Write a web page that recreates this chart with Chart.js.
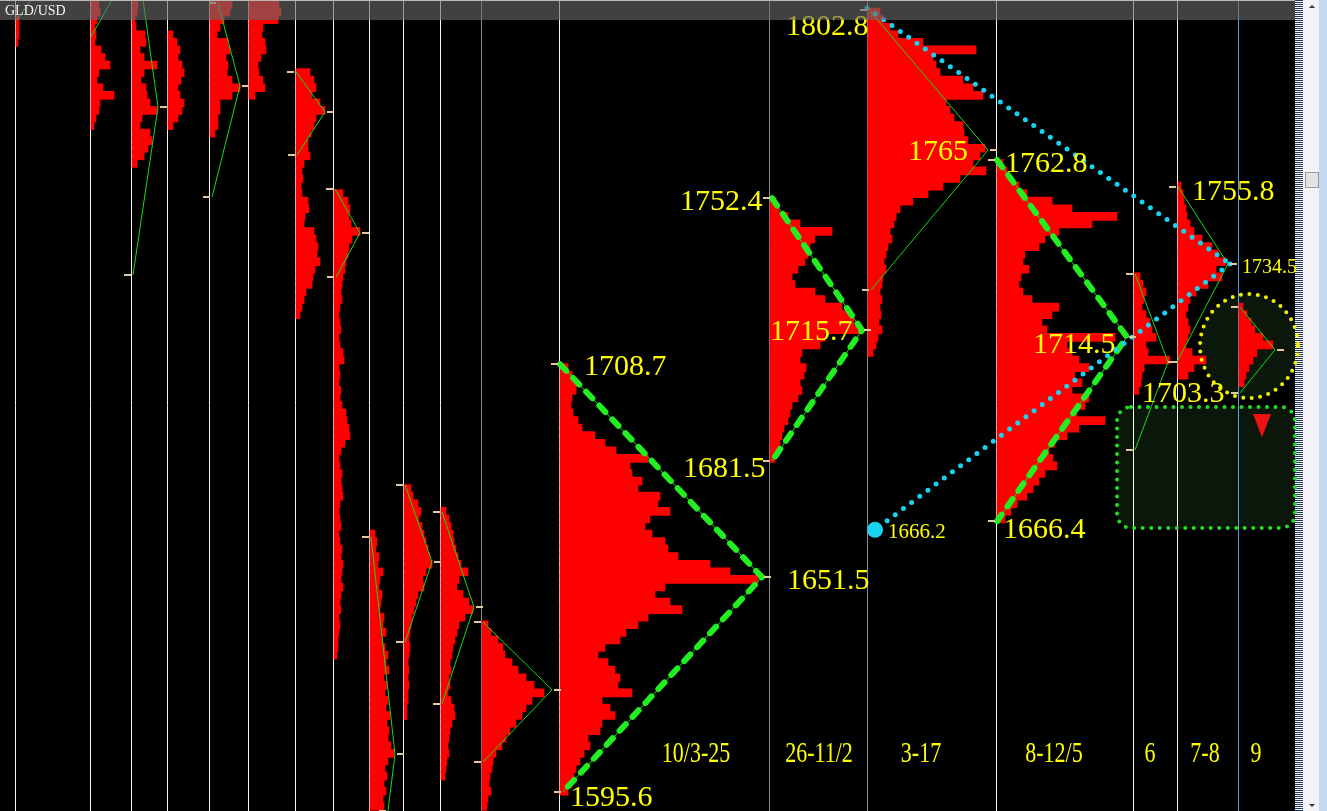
<!DOCTYPE html>
<html>
<head>
<meta charset="utf-8">
<title>GLD/USD market profile</title>
<script src="https://cdn.jsdelivr.net/npm/chart.js@4.4.1/dist/chart.umd.min.js"></script>
<style>
  html, body { margin: 0; padding: 0; background: #000; overflow: hidden; }
  #wrap { width: 1327px; height: 811px; position: relative; }
</style>
</head>
<body>
<div id="wrap"><canvas id="chart"></canvas></div>
<script>
// ---- data ---------------------------------------------------------------
// price rows are 2.0 apart, every profile is listed from its top row downwards
const rowStep = 2;

// session start on the time axis (one unit = one column of the terminal)
const sessionStart = [16, 91, 132, 168, 210, 249, 296, 334, 370, 404, 441, 482, 560, 770, 868, 997, 1134, 1178, 1239];
// price of the top row of each profile
const profileTop = [1800, 1804, 1804, 1796, 1804, 1804, 1786, 1754, 1664, 1676, 1670, 1640, 1708, 1752, 1802, 1762, 1732, 1756, 1724];

// TPO widths per row
const profileA = [3, 3, 3, 2];
const profileB = [8, 9, 6, 4, 5, 4, 10, 14, 19, 8, 6, 12, 23, 9, 8, 5, 3];
const profileC = [6, 5, 3, 4, 13, 14, 8, 12, 25, 12, 9, 14, 15, 18, 25, 10, 8, 18, 20, 16, 12, 5];
const profileD = [5, 9, 12, 10, 14, 16, 13, 10, 12, 16, 14, 10, 5];
const profileE = [22, 20, 14, 10, 7, 18, 20, 16, 18, 17, 22, 30, 22, 10, 10, 8, 8, 5];
const profileF = [30, 32, 29, 14, 13, 16, 17, 12, 9, 10, 14, 16, 6];
const profileG = [14, 18, 20, 16, 24, 29, 20, 18, 15, 12, 12, 14, 8, 6, 7, 5, 6, 12, 13, 9, 8, 18, 20, 22, 21, 24, 19, 17, 16, 10, 8, 6, 4];
const profileH = [9, 14, 16, 15, 17, 26, 18, 15, 14, 12, 11, 9, 8, 7, 8, 6, 5, 6, 7, 5, 6, 9, 10, 5, 6, 5, 7, 6, 8, 12,
                  13, 15, 16, 11, 7, 5, 6, 8, 7, 8, 9, 6, 5, 6, 7, 5, 6, 8, 7, 9, 8, 7, 9, 7, 6, 7, 5, 6, 5, 4, 4, 3];
const profileI = [5, 7, 6, 9, 8, 13, 10, 9, 12, 11, 10, 14, 13, 16, 12, 15, 18, 16, 19, 14, 17, 15, 18, 16, 20, 17, 19, 18,
                  21, 24, 18, 15, 17, 14, 16, 13, 14];
const profileJ = [7, 9, 14, 17, 15, 18, 20, 22, 24, 26, 28, 22, 19, 20, 14, 12, 10, 8, 7, 6, 5, 6, 5, 4, 5, 4, 5, 4, 4, 3, 3];
const profileK = [5, 8, 10, 12, 13, 15, 17, 20, 27, 18, 16, 22, 28, 32, 24, 18, 16, 14, 12, 11, 9, 10, 8, 9, 7, 10, 13, 14,
                  11, 9, 8, 7, 8, 6, 5, 4];
const profileL = [6, 9, 16, 21, 23, 30, 36, 44, 52, 62, 50, 44, 40, 34, 28, 24, 20, 14, 11, 10, 8, 7, 9, 6, 5];
const profileM = [8, 12, 17, 16, 12, 11, 13, 18, 22, 35, 45, 56, 88, 70, 72, 82, 78, 100, 98, 110, 90, 85, 92, 105, 108,
                  118, 150, 170, 198, 105, 95, 110, 122, 88, 78, 66, 60, 45, 38, 48, 55, 60, 58, 72, 42, 50, 55, 42, 40,
                  28, 30, 24, 20, 16, 14, 12, 8];
const profileN = [6, 9, 18, 30, 62, 45, 40, 38, 35, 28, 22, 25, 45, 55, 72, 80, 84, 90, 55, 50, 32, 30, 36, 34, 30, 32,
                  28, 22, 20, 18, 14, 12, 10, 8, 5];
const profileO = [12, 15, 22, 30, 55, 108, 65, 68, 72, 95, 105, 115, 78, 82, 86, 95, 96, 100, 117, 112, 105, 118, 92, 75,
                  60, 45, 32, 28, 26, 22, 24, 20, 18, 16, 18, 15, 14, 12, 14, 12, 13, 11, 14, 10, 8, 5];
const profileP = [6, 10, 14, 22, 30, 55, 75, 120, 95, 62, 48, 42, 28, 26, 32, 24, 22, 26, 35, 62, 55, 45, 50, 118, 70, 75,
                  82, 92, 78, 85, 75, 92, 88, 80, 108, 82, 70, 58, 52, 56, 60, 48, 42, 36, 30, 20, 14, 8];
const profileQ = [6, 9, 12, 10, 8, 12, 16, 18, 22, 12, 14, 36, 10, 8, 7, 5];
const profileR = [3, 5, 6, 8, 9, 12, 16, 24, 34, 40, 48, 38, 44, 30, 18, 12, 10, 8, 10, 12, 10, 8, 14, 28, 16, 10];
const profileS = [4, 8, 12, 16, 24, 34, 18, 14, 10, 7, 5];

const profiles = [profileA, profileB, profileC, profileD, profileE, profileF, profileG, profileH, profileI, profileJ,
                  profileK, profileL, profileM, profileN, profileO, profileP, profileQ, profileR, profileS];

// swing lines: open -> point of control -> close  [time, price]
const swingA = [[17, 1799.9], [31, 1805.2]];
const swingB = [[91, 1795.5], [112, 1805.2]];
const swingC = [[143, 1805.2], [158, 1776.9], [133, 1732.5]];
const swingE = [[218, 1804.4], [240, 1782.5], [212, 1753.1]];
const swingG = [[296, 1786.2], [325, 1775.6], [297, 1764.2]];
const swingH = [[335, 1755.2], [360, 1743.6], [336, 1731.9]];
const swingI = [[371, 1663.2], [395, 1605.8], [388, 1590.8]];
const swingJ = [[405, 1677.0], [432, 1656.6], [405, 1635.4]];
const swingK = [[442, 1669.8], [474, 1644.7], [442, 1619.1]];
const swingL = [[483, 1640.7], [552, 1622.8], [483, 1603.7]];
const swingM = [[560, 1708.9], [762, 1652.6], [563, 1595.8]];
const swingN = [[772, 1752.8], [862, 1717.9], [772, 1683.3]];
const swingO = [[869, 1802.6], [988, 1765.5], [871, 1728.5]];
const swingP = [[997, 1762.9], [1127, 1716.1], [997, 1667.4]];
const swingQ = [[1135, 1732.8], [1168, 1709.5], [1135, 1686.2]];
const swingR = [[1178, 1755.8], [1228, 1735.4], [1177, 1709.5]];
const swingS = [[1240, 1724.0], [1275, 1712.7], [1240, 1701.3]];

const thinSwings = [swingA, swingB, swingC, swingE, swingG, swingH, swingI, swingJ, swingK, swingL,
                    swingM, swingN, swingO, swingP, swingQ, swingR, swingS];
const dashedSwings = [swingM, swingN, swingP];

// cyan trend lines
const cyanUpper = [[867, 1803.1], [1230, 1735.4]];
const cyanLower = [[1230, 1735.4], [875, 1665.1]];
const cyanAnchor = [[875, 1665.1]];

// bottom session names
const dayLabels = ['10/3-25', '26-11/2', '3-17', '8-12/5', '6', '7-8', '9'];

// ---- layout / styles ----------------------------------------------------
const priceMin = 1590.76, priceMax = 1805.2;
const greyLines = [482, 770, 868];
const blueLines = [1239];
const dayLabelX = [696, 819, 921, 1054, 1150, 1205, 1256];
const dayLabelPrice = 1603.7;
// [text, time, price of baseline, font px]
const notes = [
  ['1802.8', 786, 1795.9, 30], ['1765', 908, 1762.9, 30], ['1762.8', 1005, 1759.7, 30],
  ['1752.4', 680, 1749.7, 30], ['1715.7', 770, 1715.3, 30], ['1714.5', 1033, 1711.9, 30],
  ['1708.7', 584, 1706.0, 30], ['1703.3', 1142, 1698.9, 30], ['1681.5', 683, 1679.1, 30],
  ['1651.5', 787, 1649.5, 30], ['1666.4', 1003, 1662.9, 30], ['1595.6', 570, 1592.1, 30],
  ['1755.8', 1192, 1752.3, 30], ['1666.2', 888, 1662.9, 21], ['1734.5', 1242, 1733.0, 20]
];
const watchCircle = { x: 1249, p: 1713.7, rx: 49, rp: 13.75 };
const watchBox = { x0: 1117, x1: 1295, p0: 1697.6, p1: 1665.6, r: 14 };
const arrowDown = { x0: 1253, x1: 1271, p0: 1695.7, p1: 1689.6 };

const toPts = arr => arr.map(([x, y]) => ({ x, y }));

const barData = [];
profiles.forEach((w, s) => {
  w.forEach((v, i) => {
    barData.push({ y: profileTop[s] - i * rowStep, x: [sessionStart[s], sessionStart[s] + v] });
  });
});

const datasets = [{
  type: 'bar',
  indexAxis: 'y',
  data: barData,
  backgroundColor: '#ff0000',
  borderWidth: 0,
  borderSkipped: false,
  barThickness: 8,
  grouped: false,
  order: 10
}];

thinSwings.forEach(s => datasets.push({
  type: 'line', data: toPts(s), borderColor: '#14dc14', borderWidth: 1,
  pointRadius: 0, fill: false, tension: 0, order: 5
}));
dashedSwings.forEach(s => datasets.push({
  type: 'line', data: toPts(s), borderColor: '#22ee22', borderWidth: 6, borderDash: [9, 10],
  borderCapStyle: 'round', pointRadius: 0, fill: false, tension: 0, order: 3
}));
[cyanUpper, cyanLower].forEach(s => datasets.push({
  type: 'line', data: toPts(s), borderColor: '#18d2f2', borderWidth: 5, borderDash: [0, 10.2],
  borderCapStyle: 'round', pointRadius: 0, fill: false, tension: 0, order: 1
}));
datasets.push({
  type: 'scatter', data: toPts(cyanAnchor), backgroundColor: '#18d2f2', borderWidth: 0,
  pointRadius: 8, order: 0
});

function roundRectPath(c, x0, y0, x1, y1, r) {
  c.beginPath();
  c.moveTo(x0 + r, y0);
  c.arcTo(x1, y0, x1, y1, r);
  c.arcTo(x1, y1, x0, y1, r);
  c.arcTo(x0, y1, x0, y0, r);
  c.arcTo(x0, y0, x1, y0, r);
  c.closePath();
}

function circleGeom(xs, ys) {
  const cx = xs.getPixelForValue(watchCircle.x), cy = ys.getPixelForValue(watchCircle.p);
  const rx = xs.getPixelForValue(watchCircle.x + watchCircle.rx) - cx;
  const ry = cy - ys.getPixelForValue(watchCircle.p + watchCircle.rp);
  return { cx, cy, rx, ry };
}

const deco = {
  id: 'deco',
  beforeDraw(chart) {
    const c = chart.ctx;
    c.save();
    c.fillStyle = '#000';
    c.fillRect(0, 0, chart.width, chart.height);
    c.restore();
  },
  beforeDatasetsDraw(chart) {
    const c = chart.ctx, xs = chart.scales.x, ys = chart.scales.y;
    const { top, bottom } = chart.chartArea;
    c.save();
    // dark zones
    c.fillStyle = '#0b170b';
    roundRectPath(c, xs.getPixelForValue(watchBox.x0), ys.getPixelForValue(watchBox.p0),
      xs.getPixelForValue(watchBox.x1), ys.getPixelForValue(watchBox.p1), watchBox.r);
    c.fill();
    const g = circleGeom(xs, ys);
    c.beginPath(); c.ellipse(g.cx, g.cy, g.rx, g.ry, 0, 0, Math.PI * 2); c.fill();
    // session separators
    sessionStart.forEach(x => {
      const px = Math.round(xs.getPixelForValue(x)) - 0.5;
      c.strokeStyle = greyLines.includes(x) ? '#8a8a8a' : blueLines.includes(x) ? '#5aa0e0' : '#f4f4f4';
      c.lineWidth = 1;
      c.beginPath(); c.moveTo(px, top); c.lineTo(px, bottom); c.stroke();
    });
    c.restore();
  },
  afterDatasetsDraw(chart) {
    const c = chart.ctx, xs = chart.scales.x, ys = chart.scales.y;
    const right = chart.chartArea.right;
    const W = chart.width, H = chart.height;
    c.save();
    // scrollbar
    for (let y = 0; y < H; y += 2) {
      c.fillStyle = '#24365e'; c.fillRect(right, y, 8, 1);
      c.fillStyle = '#f6f6fa'; c.fillRect(right, y + 1, 8, 1);
    }
    c.fillStyle = '#f3f3f7'; c.fillRect(right + 8, 0, 16, H);
    c.fillStyle = '#c4d8f2'; c.fillRect(right + 24, 0, W - right - 24, H);
    c.fillStyle = '#e2e2e2'; c.fillRect(right + 10, 172, 14, 16);
    c.strokeStyle = '#9a9a9a'; c.lineWidth = 1; c.strokeRect(right + 10.5, 172.5, 13, 15);
    c.fillStyle = '#333';
    c.beginPath(); c.moveTo(right + 14, 8); c.lineTo(right + 20, 8); c.lineTo(right + 17, 5); c.closePath(); c.fill();
    c.beginPath(); c.moveTo(right + 14, 804); c.lineTo(right + 20, 804); c.lineTo(right + 17, 807); c.closePath(); c.fill();
    // ticks at open / poc / close
    c.fillStyle = '#e2c9a2';
    thinSwings.forEach(s => {
      if (s.length < 3) return;
      s.forEach(([x, p], i) => {
        const px = xs.getPixelForValue(x), py = Math.round(ys.getPixelForValue(p));
        if (i === 1) c.fillRect(px + 2, py - 1, 7, 2);
        else c.fillRect(px - 9, py - 1, 7, 2);
      });
    });
    // dotted circle
    const g = circleGeom(xs, ys);
    c.setLineDash([0, 8.5]); c.lineCap = 'round';
    c.strokeStyle = '#f2f200'; c.lineWidth = 4;
    c.beginPath(); c.ellipse(g.cx, g.cy, g.rx, g.ry, 0, 0, Math.PI * 2); c.stroke();
    // dotted box
    c.strokeStyle = '#22dd22';
    roundRectPath(c, xs.getPixelForValue(watchBox.x0), ys.getPixelForValue(watchBox.p0),
      xs.getPixelForValue(watchBox.x1), ys.getPixelForValue(watchBox.p1), watchBox.r);
    c.stroke();
    c.setLineDash([]);
    // red arrow
    c.fillStyle = '#ee1111';
    c.beginPath();
    c.moveTo(xs.getPixelForValue(arrowDown.x0), ys.getPixelForValue(arrowDown.p0));
    c.lineTo(xs.getPixelForValue(arrowDown.x1), ys.getPixelForValue(arrowDown.p0));
    c.lineTo(xs.getPixelForValue((arrowDown.x0 + arrowDown.x1) / 2), ys.getPixelForValue(arrowDown.p1));
    c.closePath(); c.fill();
    // price notes
    c.fillStyle = '#ffff00';
    c.textBaseline = 'alphabetic';
    notes.forEach(([t, x, p, size]) => {
      c.font = size + 'px "Liberation Serif", "DejaVu Serif", serif';
      c.textAlign = 'left';
      c.fillText(t, xs.getPixelForValue(x), ys.getPixelForValue(p));
    });
    // session names
    c.font = '22px "Liberation Serif", serif';
    c.textAlign = 'center';
    dayLabels.forEach((t, i) => {
      const px = xs.getPixelForValue(dayLabelX[i]), py = ys.getPixelForValue(dayLabelPrice);
      c.save(); c.translate(px, py); c.scale(1, 1.3); c.fillText(t, 0, 0); c.restore();
    });
    // title strip
    c.fillStyle = 'rgba(105,105,105,0.62)';
    c.fillRect(0, 0, right, 20);
    c.fillStyle = '#b8b8b8';
    c.fillRect(0, 0, right, 1);
    c.fillStyle = '#f4f4f4';
    c.font = '14px "Liberation Serif", serif';
    c.textAlign = 'left';
    c.fillText('GLD/USD', 5, 15);
    c.restore();
  }
};

new Chart(document.getElementById('chart'), {
  type: 'bar',
  data: { datasets },
  options: {
    responsive: true,
    maintainAspectRatio: false,
    animation: false,
    layout: { padding: { left: 0, right: 32, top: 0, bottom: 0 }, autoPadding: false },
    plugins: { legend: { display: false }, tooltip: { enabled: false } },
    scales: {
      x: { type: 'linear', min: 0, max: 1295, offset: false, grace: 0, display: false },
      y: { type: 'linear', min: priceMin, max: priceMax, offset: false, grace: 0, beginAtZero: false, display: false }
    }
  },
  plugins: [deco]
});
</script>
</body>
</html>
